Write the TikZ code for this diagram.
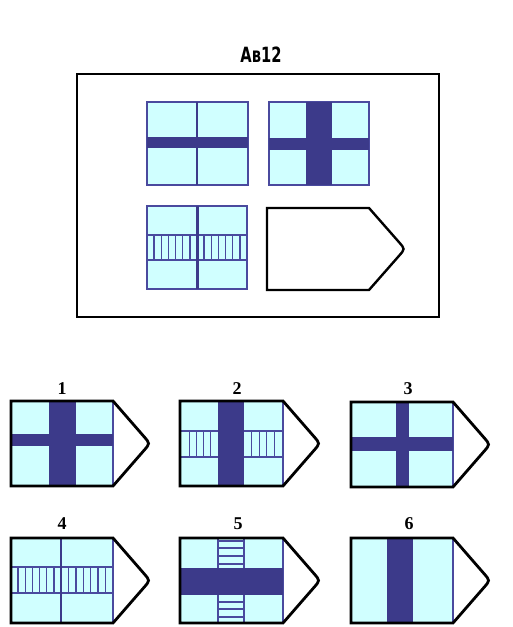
\documentclass[tikz,border=0pt]{standalone}
\usepackage{fontspec}
\usetikzlibrary{calc}
\newfontfamily\titlefont[FakeStretch=0.7]{DejaVu Sans}
\newfontfamily\numfont{Liberation Serif}
\definecolor{cyanL}{HTML}{D0FFFF}
\definecolor{navy}{HTML}{3C3A8A}
\definecolor{navyB}{HTML}{4A4A9E}
\tikzset{
  sqbox/.style={fill=cyanL,draw=navyB,line width=1.3pt},
  barfill/.style={fill=navy,draw=none},
  ladline/.style={draw=navyB,line width=1.3pt},
  outl/.style={draw=black,line width=2.8pt,line join=miter},
  frame/.style={draw=black,line width=1.6pt},
  numlab/.style={font=\numfont\bfseries\fontsize{18}{18}\selectfont,inner sep=0pt},
}
% pentagon outline: #1 x, #2 y, #3 w, #4 h, #5 tip, #6 line width
\newcommand\pentaout[6]{%
  \coordinate (pA) at (#1+#3,#2);
  \coordinate (pT) at (#1+#3+#5,#2+#4/2);
  \coordinate (pB) at (#1+#3,#2+#4);
  \draw[outl,line width=#6] (#1,#2) -- (pA) -- ($(pT)!9pt!(pA)$)
     .. controls (pT) .. ($(pT)!9pt!(pB)$) -- (pB) -- (#1,#2+#4) -- cycle;
}
\begin{document}
\begin{tikzpicture}[x=1pt,y=-1pt]
\useasboundingbox (0,0) rectangle (513,627);
% ---------- title and frame
\node[font=\titlefont\bfseries\fontsize{21}{21}\selectfont,inner sep=0pt] (title) at (261,55) {Ав12};
\draw[frame] (77,74) rectangle (439,317);
% ---------- problem square 1
\draw[sqbox] (147,102) rectangle (248,185);
\fill[barfill] (147,137) rectangle (248,148);
\draw[navy,line width=2.4pt] (197,102) -- (197,185);
% ---------- problem square 2
\draw[sqbox] (269,102) rectangle (369,185);
\fill[barfill] (269,138) rectangle (369,150);
\fill[barfill] (306,102) rectangle (332,185);
% ---------- problem square 3
\draw[sqbox] (147,206) rectangle (247,289);
\draw[ladline] (147,235) -- (247,235) (147,260) -- (247,260);
\foreach \i in {1,...,6} {
  \draw[ladline] (147+\i*50/7,235) -- (147+\i*50/7,260);
  \draw[ladline] (197+\i*50/7,235) -- (197+\i*50/7,260);
}
\draw[navy,line width=3pt] (197,206) -- (197,289);
% ---------- empty pentagon
\pentaout{267}{208}{102}{82}{36}{2.4pt}
% ---------- option 1
\draw[sqbox] (11,401) rectangle (113,486);
\fill[barfill] (11,434) rectangle (113,446);
\fill[barfill] (49,401) rectangle (76,486);
\pentaout{11}{401}{102}{85}{37}{2.8pt}
\node[numlab] (n1) at (62,389) {1};
% ---------- option 2
\draw[sqbox] (180,401) rectangle (283,486);
\draw[ladline] (180,431) -- (283,431) (180,457) -- (283,457);
\foreach \i in {1,...,4} {
  \draw[ladline] (182+\i*36/5,431) -- (182+\i*36/5,457);
  \draw[ladline] (244+\i*38/5,431) -- (244+\i*38/5,457);
}
\fill[barfill] (218,401) rectangle (244,486);
\pentaout{180}{401}{103}{85}{37}{2.8pt}
\node[numlab] (n2) at (237,389) {2};
% ---------- option 3
\draw[sqbox] (351,402) rectangle (453,487);
\fill[barfill] (351,437) rectangle (453,451);
\fill[barfill] (396,402) rectangle (409,487);
\pentaout{351}{402}{102}{85}{37}{2.8pt}
\node[numlab] (n3) at (408,389) {3};
% ---------- option 4
\draw[sqbox] (11,538) rectangle (113,623);
\draw[ladline] (11,567) -- (113,567) (11,593) -- (113,593);
\foreach \i in {1,...,6} {
  \draw[ladline] (11+\i*50/7,567) -- (11+\i*50/7,593);
  \draw[ladline] (61+\i*52/7,567) -- (61+\i*52/7,593);
}
\draw[navy,line width=2.8pt] (61,538) -- (61,623);
\pentaout{11}{538}{102}{85}{37}{2.8pt}
\node[numlab] (n4) at (62,524) {4};
% ---------- option 5
\draw[sqbox] (180,538) rectangle (283,623);
\draw[ladline] (218,538) -- (218,623) (244,538) -- (244,623);
\foreach \yy in {541,548,556,564,602,609,617} {
  \draw[ladline] (218,\yy) -- (244,\yy);
}
\fill[barfill] (180,568) rectangle (283,595);
\pentaout{180}{538}{103}{85}{37}{2.8pt}
\node[numlab] (n5) at (238,524) {5};
% ---------- option 6
\draw[sqbox] (351,538) rectangle (453,623);
\fill[barfill] (387,538) rectangle (413,623);
\pentaout{351}{538}{102}{85}{37}{2.8pt}
\node[numlab] (n6) at (409,524) {6};
\end{tikzpicture}
\end{document}
